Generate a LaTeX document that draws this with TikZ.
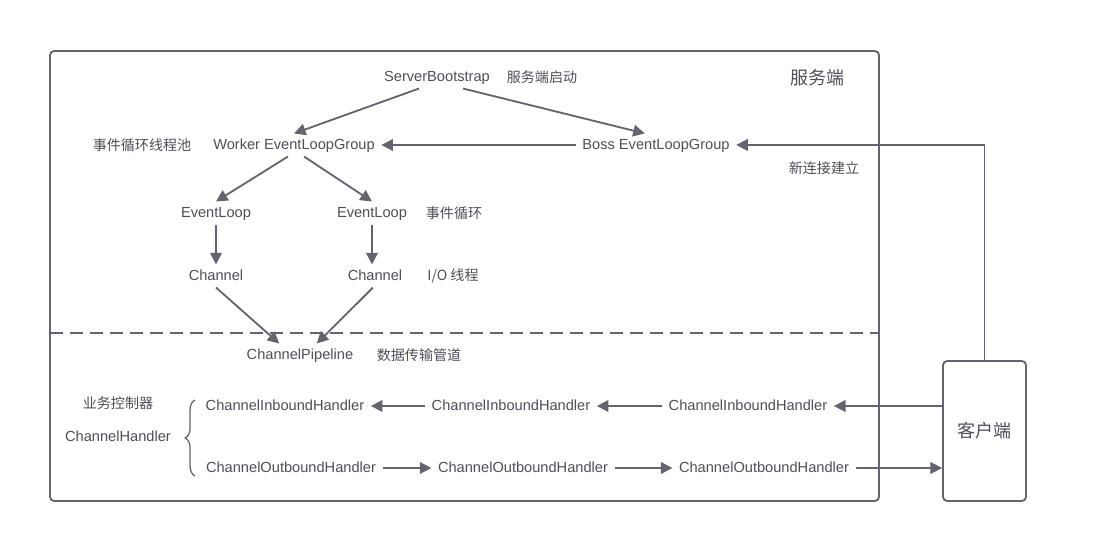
\documentclass[tikz,border=0pt]{standalone}
\usepackage{fontspec}
\setmainfont{Liberation Sans}
\newfontfamily\cjk{Noto Sans CJK SC}
\usetikzlibrary{arrows.meta, decorations.pathreplacing}
\definecolor{nline}{HTML}{64636E}
\definecolor{ntext}{HTML}{4E4E58}

\begin{document}
\begin{tikzpicture}[x=0.025cm, y=-0.025cm,
  lbl/.style={text=ntext, font=\fontsize{10.4}{12}\selectfont, inner xsep=4.5pt, inner ysep=3pt, text height=8pt, text depth=2pt},
  note/.style={text=ntext, font=\cjk\fontsize{10}{12}\selectfont, inner sep=2pt},
  big/.style={text=ntext, font=\cjk\fontsize{12.8}{15}\selectfont, inner sep=2pt},
  arr/.style={nline, line width=1.3pt, -{Triangle[length=2.9mm, width=2.9mm]}},
  frame/.style={nline, line width=1.3pt, rounded corners=3pt}]
  \useasboundingbox (0,0) rectangle (1110,536);

  % Server side frame and split line
  \draw[frame] (50,51) rectangle (879,501);
  \draw[nline, line width=1.3pt, dash pattern=on 0.32cm off 0.18cm] (50,333) -- (879,333);
  \node[big] (server) at (817,78) {服务端};

  % Bootstrap and loop groups
  \node[lbl] (sb) at (437,77) {ServerBootstrap};
  \node[note] (sbnote) at (542,77) {服务端启动};
  \node[lbl] (worker) at (294,145) {Worker EventLoopGroup};
  \node[note] (wnote) at (142,145) {事件循环线程池};
  \node[lbl] (boss) at (656,145) {Boss EventLoopGroup};
  \node[note] (newconn) at (824,168) {新连接建立};

  % Event loops and channels
  \node[lbl] (el1) at (216,213) {EventLoop};
  \node[lbl] (el2) at (372,213) {EventLoop};
  \node[note] (elnote) at (454,213) {事件循环};
  \node[lbl] (ch1) at (216,276) {Channel};
  \node[lbl] (ch2) at (375,276) {Channel};
  \node[note] (chnote) at (453,276) {I/O 线程};

  % Pipeline
  \node[lbl] (pipe) at (300,355) {ChannelPipeline};
  \node[note] (pipenote) at (419,355) {数据传输管道};

  % Handlers
  \node[note] (bizctl) at (118,403) {业务控制器};
  \node[lbl] (handler) at (118,437) {ChannelHandler};
  \draw[nline, line width=0.9pt, decorate, decoration={brace, amplitude=7pt}] (195,476) -- (195,400);
  \node[lbl] (in1) at (285,406) {ChannelInboundHandler};
  \node[lbl] (in2) at (511,406) {ChannelInboundHandler};
  \node[lbl] (in3) at (748,406) {ChannelInboundHandler};
  \node[lbl] (out1) at (291,468) {ChannelOutboundHandler};
  \node[lbl] (out2) at (523,468) {ChannelOutboundHandler};
  \node[lbl] (out3) at (764,468) {ChannelOutboundHandler};

  % Client
  \node[frame, draw, text=ntext, font=\cjk\fontsize{12.8}{15}\selectfont,
        minimum width=2.075cm, minimum height=3.5cm] (client) at (984.5,431) {客户端};

  % Connectors
  \draw[arr] ([xshift=-0.45cm]sb.south) -- (worker.north);
  \draw[arr] ([xshift=0.65cm]sb.south) -- ([xshift=-0.28cm]boss.north);
  \draw[arr] (boss.west) -- (worker.east);
  \draw[arr] ([xshift=-0.15cm]worker.south) -- (el1.north);
  \draw[arr] ([xshift=0.25cm]worker.south) -- (el2.north);
  \draw[arr] (el1.south) -- (ch1.north);
  \draw[arr] (el2.south) -- (el2.south |- ch2.north);
  \draw[arr] (ch1.south) -- ([xshift=-0.52cm]pipe.north);
  \draw[arr] ([xshift=-0.05cm]ch2.south) -- ([xshift=0.42cm]pipe.north);
  \draw[arr] (in3.west) -- (in2.east);
  \draw[arr] (in2.west) -- (in1.east);
  \draw[arr] (out1.east) -- (out2.west);
  \draw[arr] (out2.east) -- (out3.west);
  \draw[arr] (client.west |- in3) -- (in3.east);
  \draw[arr] (out3.east) -- (out3 -| client.west);
  \draw[arr] (client.north) |- (boss.east);
\end{tikzpicture}
\end{document}
